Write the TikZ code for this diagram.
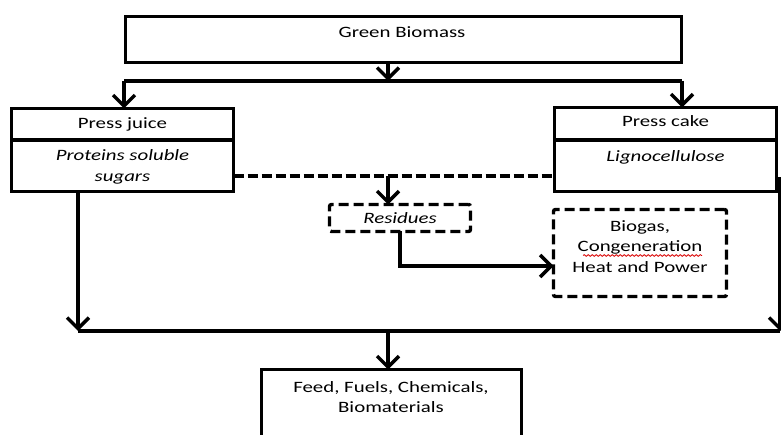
\documentclass[tikz,border=0pt]{standalone}
\usepackage{fontspec}
\setmainfont{Carlito}[FakeStretch=1.32]
\usetikzlibrary{arrows.meta,decorations.pathmorphing}

\begin{document}
\begin{tikzpicture}[x=1bp,y=-1bp,
  every node/.style={inner sep=0pt,outer sep=0pt},
  box/.style={draw,line width=3.4bp,rectangle,anchor=north west},
  dbox/.style={box,dash pattern=on 10bp off 5bp,rounded corners=2bp},
  lbl/.style={font=\fontsize{15.8bp}{20.5bp}\selectfont,align=center,anchor=base},
  ilbl/.style={lbl,font=\fontsize{15.8bp}{20.5bp}\selectfont\itshape},
  flow/.style={line width=3.4bp,-{Straight Barb[length=11bp,width=22bp]}},
  link/.style={line width=3.4bp},
  dlink/.style={line width=3.4bp,dash pattern=on 10bp off 4bp},
]
\useasboundingbox (0,0) rectangle (781,435);

% boxes
\node[box,minimum width=556bp,minimum height=46bp] (gb) at (125.5,16.5) {};
\node[box,minimum width=222bp,minimum height=31.5bp] (pjt) at (11.5,108.5) {};
\node[box,minimum width=222bp,minimum height=51.5bp] (pjb) at (11.5,140) {};
\node[box,minimum width=222bp,minimum height=32.5bp] (pct) at (554.5,107.5) {};
\node[box,minimum width=222bp,minimum height=51.5bp] (pcb) at (554.5,140) {};
\node[dbox,minimum width=141bp,minimum height=27bp] (res) at (329.5,204.5) {};
\node[dbox,minimum width=173bp,minimum height=87bp] (bio) at (553.5,209.5) {};
\node[box,minimum width=260bp,minimum height=80bp] (feed) at (261.5,369.5) {};

% labels (base anchor = baseline of the last line)
\node[lbl] (tgb) at (402,38) {Green Biomass};
\node[lbl] (tpj) at (122.5,128.5) {Press juice};
\node[ilbl] (tpjb) at (122.5,181.5) {Proteins soluble\\sugars};
\node[lbl] (tpc) at (665.5,126.5) {Press cake};
\node[ilbl] (tpcb) at (665.5,162) {Lignocellulose};
\node[ilbl] (tres) at (400,224) {Residues};
\node[lbl] (tbio) at (640,272.5) {Biogas,\\Congeneration\\Heat and Power};
\node[lbl] (tfeed) at (391,412.5) {Feed, Fuels, Chemicals,\\Biomaterials};

% spell-check underline
\coordinate (w1) at (583,255.5);
\coordinate (w2) at (702,255.5);
\draw[red!85!black,line width=0.8bp,decorate,
  decoration={snake,segment length=4bp,amplitude=0.9bp}] (w1) -- (w2);

% splitting the biomass
\coordinate (split) at (388,81);
\coordinate (sl) at (124,81);
\coordinate (sr) at (682,81);
\draw[flow] (gb.south -| split) -- (split);
\draw[link] (sl) -- (sr);
\draw[flow] (sl) -- (sl |- pjt.north);
\draw[flow] (sr) -- (sr |- pct.north);

% residues
\coordinate (rj) at (388,176);
\draw[dlink] (pjb.east |- rj) -- (pcb.west |- rj);
\draw[flow] (rj) -- (rj |- res.north);
\coordinate (rb) at (400,266);
\draw[flow] (res.south -| rb) -- (rb) -- (bio.west |- rb);

% collection towards products
\coordinate (cl) at (78,331);
\coordinate (cr) at (780,331);
\coordinate (crt) at (780,177);
\coordinate (cm) at (388,331);
\draw[flow] (pjb.south -| cl) -- (cl);
\draw[link] (cl) -- (cr);
\draw[flow] (crt) -- (cr);
\draw[flow] (cm) -- (cm |- feed.north);
\end{tikzpicture}
\end{document}
